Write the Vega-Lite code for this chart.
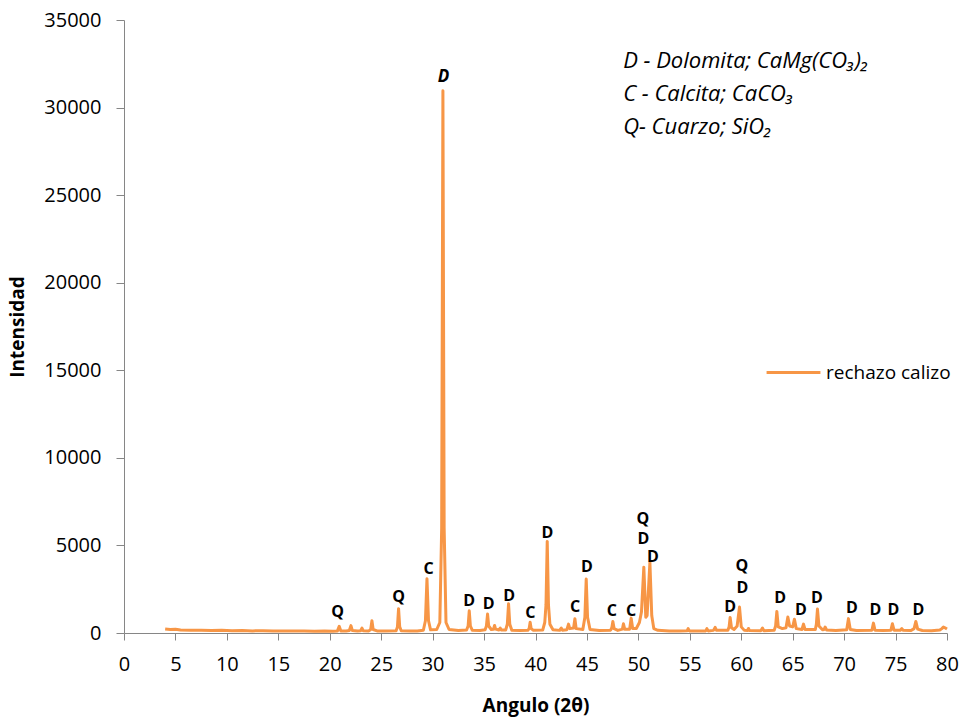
{
  "$schema": "https://vega.github.io/schema/vega-lite/v6.json",
  "width": 823,
  "height": 613,
  "autosize": {"type": "none"},
  "padding": {"left": 124, "top": 20, "right": 18, "bottom": 87},
  "background": "white",
  "config": {
    "view": {"stroke": null},
    "font": "Open Sans",
    "axis": {
      "grid": false,
      "domainColor": "#868686",
      "tickColor": "#868686",
      "labelColor": "#000000",
      "titleColor": "#000000",
      "labelFont": "Open Sans",
      "titleFont": "Open Sans",
      "labelFontSize": 20,
      "titleFontSize": 19,
      "titleFontWeight": "bold"
    }
  },
  "layer": [
    {
      "data": {
        "values": [
          {"a": 4.0, "i": 230}, {"a": 4.5, "i": 200}, {"a": 5.0, "i": 210}, {"a": 5.5, "i": 170},
          {"a": 6.5, "i": 160}, {"a": 7.5, "i": 150}, {"a": 8.5, "i": 140}, {"a": 9.5, "i": 150},
          {"a": 10.5, "i": 130}, {"a": 11.5, "i": 140}, {"a": 12.5, "i": 120}, {"a": 13.5, "i": 130},
          {"a": 14.5, "i": 120}, {"a": 15.5, "i": 110}, {"a": 16.5, "i": 120}, {"a": 17.5, "i": 110},
          {"a": 18.5, "i": 100}, {"a": 19.5, "i": 110}, {"a": 20.3, "i": 100},
          {"a": 20.75, "i": 120}, {"a": 20.92, "i": 380}, {"a": 21.08, "i": 120},
          {"a": 21.6, "i": 110}, {"a": 21.9, "i": 140}, {"a": 22.06, "i": 420}, {"a": 22.2, "i": 140},
          {"a": 22.7, "i": 110}, {"a": 23.0, "i": 130}, {"a": 23.13, "i": 280}, {"a": 23.25, "i": 130},
          {"a": 23.8, "i": 120}, {"a": 23.98, "i": 200}, {"a": 24.1, "i": 700}, {"a": 24.22, "i": 200},
          {"a": 24.6, "i": 120}, {"a": 25.5, "i": 110},
          {"a": 26.45, "i": 130}, {"a": 26.58, "i": 350}, {"a": 26.69, "i": 1390}, {"a": 26.8, "i": 350}, {"a": 26.95, "i": 130},
          {"a": 27.8, "i": 110}, {"a": 28.5, "i": 120},
          {"a": 29.1, "i": 160}, {"a": 29.3, "i": 700}, {"a": 29.45, "i": 3100}, {"a": 29.6, "i": 700}, {"a": 29.8, "i": 180},
          {"a": 30.4, "i": 200}, {"a": 30.7, "i": 600}, {"a": 30.88, "i": 6000}, {"a": 31.0, "i": 30960},
          {"a": 31.12, "i": 6000}, {"a": 31.3, "i": 600}, {"a": 31.6, "i": 200},
          {"a": 32.5, "i": 140},
          {"a": 33.3, "i": 170}, {"a": 33.45, "i": 400}, {"a": 33.56, "i": 1270}, {"a": 33.67, "i": 400}, {"a": 33.85, "i": 160},
          {"a": 34.6, "i": 140},
          {"a": 35.1, "i": 180}, {"a": 35.23, "i": 400}, {"a": 35.34, "i": 1080}, {"a": 35.45, "i": 400}, {"a": 35.7, "i": 200},
          {"a": 35.92, "i": 220}, {"a": 36.02, "i": 430}, {"a": 36.12, "i": 220},
          {"a": 36.45, "i": 170}, {"a": 36.57, "i": 280}, {"a": 36.7, "i": 170},
          {"a": 37.1, "i": 170}, {"a": 37.26, "i": 500}, {"a": 37.38, "i": 1670}, {"a": 37.5, "i": 500}, {"a": 37.7, "i": 160},
          {"a": 38.5, "i": 140},
          {"a": 39.25, "i": 150}, {"a": 39.38, "i": 250}, {"a": 39.48, "i": 620}, {"a": 39.58, "i": 250}, {"a": 39.8, "i": 150},
          {"a": 40.7, "i": 170}, {"a": 40.9, "i": 600}, {"a": 41.02, "i": 1600}, {"a": 41.14, "i": 5230},
          {"a": 41.26, "i": 1600}, {"a": 41.4, "i": 500}, {"a": 41.7, "i": 180},
          {"a": 42.35, "i": 150}, {"a": 42.5, "i": 280}, {"a": 42.62, "i": 160},
          {"a": 43.05, "i": 190}, {"a": 43.21, "i": 510}, {"a": 43.33, "i": 250},
          {"a": 43.7, "i": 280}, {"a": 43.83, "i": 820}, {"a": 43.95, "i": 250},
          {"a": 44.6, "i": 200}, {"a": 44.8, "i": 900}, {"a": 44.93, "i": 3080}, {"a": 45.06, "i": 900}, {"a": 45.3, "i": 200},
          {"a": 46.2, "i": 140},
          {"a": 47.3, "i": 160}, {"a": 47.42, "i": 300}, {"a": 47.52, "i": 660}, {"a": 47.64, "i": 250},
          {"a": 48.0, "i": 150}, {"a": 48.45, "i": 220}, {"a": 48.55, "i": 530}, {"a": 48.67, "i": 220},
          {"a": 49.15, "i": 220}, {"a": 49.3, "i": 850}, {"a": 49.45, "i": 250},
          {"a": 49.8, "i": 260}, {"a": 50.1, "i": 600}, {"a": 50.3, "i": 1200}, {"a": 50.53, "i": 3760},
          {"a": 50.72, "i": 900}, {"a": 50.85, "i": 1000}, {"a": 51.12, "i": 4030}, {"a": 51.3, "i": 1000},
          {"a": 51.5, "i": 250}, {"a": 51.9, "i": 150},
          {"a": 53.0, "i": 120}, {"a": 54.0, "i": 110},
          {"a": 54.75, "i": 130}, {"a": 54.84, "i": 250}, {"a": 54.95, "i": 120},
          {"a": 55.8, "i": 110},
          {"a": 56.55, "i": 120}, {"a": 56.66, "i": 250}, {"a": 56.78, "i": 120},
          {"a": 57.3, "i": 150}, {"a": 57.46, "i": 320}, {"a": 57.6, "i": 150},
          {"a": 58.7, "i": 160}, {"a": 58.82, "i": 350}, {"a": 58.92, "i": 890}, {"a": 59.05, "i": 300},
          {"a": 59.3, "i": 200}, {"a": 59.6, "i": 400}, {"a": 59.83, "i": 1480}, {"a": 60.0, "i": 350},
          {"a": 60.3, "i": 150}, {"a": 60.6, "i": 140}, {"a": 60.7, "i": 260}, {"a": 60.8, "i": 140},
          {"a": 61.9, "i": 130}, {"a": 62.06, "i": 280}, {"a": 62.2, "i": 130},
          {"a": 63.2, "i": 150}, {"a": 63.34, "i": 400}, {"a": 63.46, "i": 1230}, {"a": 63.6, "i": 350},
          {"a": 64.0, "i": 250}, {"a": 64.35, "i": 300}, {"a": 64.53, "i": 910}, {"a": 64.7, "i": 400},
          {"a": 65.0, "i": 350}, {"a": 65.17, "i": 790}, {"a": 65.35, "i": 250},
          {"a": 65.9, "i": 200}, {"a": 66.05, "i": 510}, {"a": 66.2, "i": 200},
          {"a": 67.2, "i": 200}, {"a": 67.3, "i": 500}, {"a": 67.41, "i": 1365}, {"a": 67.55, "i": 400},
          {"a": 67.9, "i": 180}, {"a": 68.05, "i": 200}, {"a": 68.15, "i": 340}, {"a": 68.3, "i": 170},
          {"a": 69.2, "i": 140},
          {"a": 70.25, "i": 180}, {"a": 70.42, "i": 820}, {"a": 70.6, "i": 200},
          {"a": 71.2, "i": 140},
          {"a": 72.7, "i": 160}, {"a": 72.85, "i": 565}, {"a": 73.0, "i": 160},
          {"a": 73.8, "i": 140},
          {"a": 74.55, "i": 160}, {"a": 74.69, "i": 530}, {"a": 74.85, "i": 160},
          {"a": 75.45, "i": 150}, {"a": 75.61, "i": 250}, {"a": 75.75, "i": 150},
          {"a": 76.5, "i": 140}, {"a": 76.8, "i": 250}, {"a": 76.97, "i": 660}, {"a": 77.15, "i": 220},
          {"a": 77.6, "i": 140}, {"a": 78.5, "i": 130},
          {"a": 79.3, "i": 170}, {"a": 79.5, "i": 250}, {"a": 79.65, "i": 340}, {"a": 79.8, "i": 300}, {"a": 80.0, "i": 230}
        ]
      },
      "mark": {"type": "line", "strokeWidth": 3, "strokeJoin": "round", "clip": false},
      "encoding": {
        "x": {
          "field": "a", "type": "quantitative",
          "scale": {"domain": [0, 80], "nice": false, "zero": false},
          "axis": {
            "title": "Angulo (2θ)",
            "values": [0, 5, 10, 15, 20, 25, 30, 35, 40, 45, 50, 55, 60, 65, 70, 75, 80],
            "format": "d",
            "tickSize": 7,
            "labelPadding": 14,
            "titlePadding": 22,
            "labelFlush": false
          }
        },
        "y": {
          "field": "i", "type": "quantitative",
          "scale": {"domain": [0, 35000], "nice": false},
          "axis": {
            "title": "Intensidad",
            "values": [0, 5000, 10000, 15000, 20000, 25000, 30000, 35000],
            "format": "d",
            "tickSize": 8,
            "labelPadding": 15,
            "titlePadding": 16,
            "labelFlush": false
          }
        },
        "color": {
          "datum": "rechazo calizo",
          "type": "nominal",
          "scale": {"range": ["#F79646"]},
          "legend": {
            "title": null,
            "orient": "none",
            "legendX": 641,
            "legendY": 324,
            "symbolType": "stroke",
            "symbolSize": 2900,
            "symbolStrokeWidth": 3,
            "labelFont": "Open Sans",
            "labelFontSize": 19,
            "labelColor": "#000000",
            "labelOffset": 4
          }
        }
      }
    },
    {
      "data": {
        "values": [
          {"a": 20.76, "i": 931, "t": "Q"},
          {"a": 26.69, "i": 1787, "t": "Q"},
          {"a": 29.61, "i": 3352, "t": "C"},
          {"a": 33.56, "i": 1542, "t": "D"},
          {"a": 35.44, "i": 1353, "t": "D"},
          {"a": 37.44, "i": 1844, "t": "D"},
          {"a": 39.49, "i": 874, "t": "C"},
          {"a": 41.16, "i": 5441, "t": "D"},
          {"a": 43.86, "i": 1182, "t": "C"},
          {"a": 45.0, "i": 3500, "t": "D"},
          {"a": 47.42, "i": 971, "t": "C"},
          {"a": 49.3, "i": 971, "t": "C"},
          {"a": 50.44, "i": 6250, "t": "Q"},
          {"a": 50.5, "i": 5080, "t": "D"},
          {"a": 51.42, "i": 4080, "t": "D"},
          {"a": 58.92, "i": 1216, "t": "D"},
          {"a": 60.06, "i": 3560, "t": "Q"},
          {"a": 60.12, "i": 2301, "t": "D"},
          {"a": 63.78, "i": 1730, "t": "D"},
          {"a": 65.79, "i": 1028, "t": "D"},
          {"a": 67.35, "i": 1730, "t": "D"},
          {"a": 70.75, "i": 1159, "t": "D"},
          {"a": 73.04, "i": 1028, "t": "D"},
          {"a": 74.79, "i": 1028, "t": "D"},
          {"a": 77.22, "i": 1028, "t": "D"}
        ]
      },
      "mark": {"type": "text", "font": "Open Sans", "fontSize": 16, "fontWeight": "bold", "color": "#000000", "baseline": "alphabetic", "align": "center"},
      "encoding": {
        "x": {"field": "a", "type": "quantitative"},
        "y": {"field": "i", "type": "quantitative"},
        "text": {"field": "t"}
      }
    },
    {
      "data": {"values": [{"a": 31.06, "i": 31478, "t": "D"}]},
      "mark": {"type": "text", "font": "Open Sans", "fontSize": 17, "fontWeight": "bold", "fontStyle": "italic", "color": "#000000", "baseline": "alphabetic", "align": "center"},
      "encoding": {
        "x": {"field": "a", "type": "quantitative"},
        "y": {"field": "i", "type": "quantitative"},
        "text": {"field": "t"}
      }
    },
    {
      "data": {
        "values": [
          {"a": 48.52, "i": 32277, "t": "D - Dolomita; CaMg(CO₃)₂"},
          {"a": 48.52, "i": 30376, "t": "C - Calcita; CaCO₃"},
          {"a": 48.52, "i": 28492, "t": "Q- Cuarzo; SiO₂"}
        ]
      },
      "mark": {"type": "text", "font": "Open Sans", "fontSize": 22, "fontStyle": "italic", "color": "#000000", "baseline": "alphabetic", "align": "left"},
      "encoding": {
        "x": {"field": "a", "type": "quantitative"},
        "y": {"field": "i", "type": "quantitative"},
        "text": {"field": "t"}
      }
    }
  ]
}
